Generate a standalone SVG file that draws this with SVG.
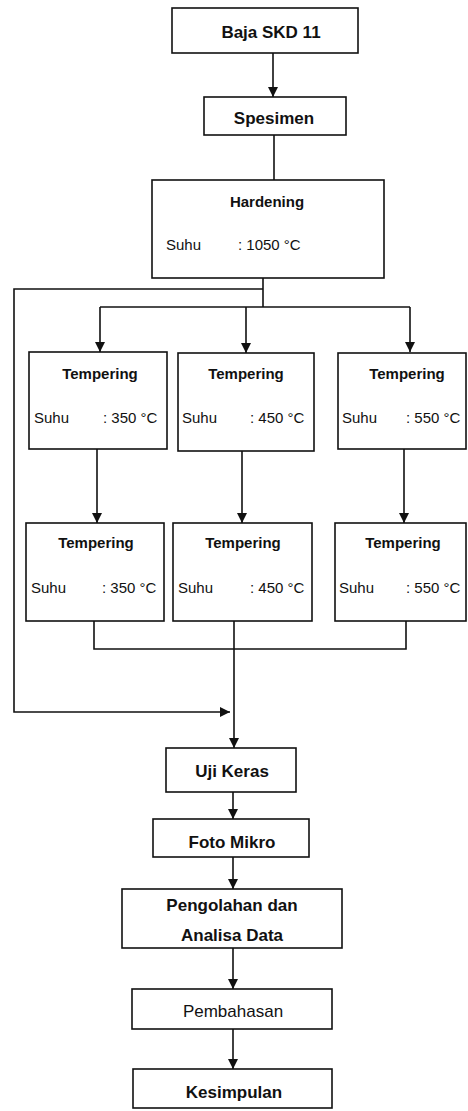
<svg xmlns="http://www.w3.org/2000/svg" width="468" height="1111" viewBox="0 0 468 1111">
<style>
.box{fill:#fff;stroke:#111;stroke-width:1.6}
.ln{fill:none;stroke:#111;stroke-width:1.6}
.t{font-family:"Liberation Sans",Arial,sans-serif;font-weight:bold;font-size:17px;fill:#111;text-anchor:middle}
.tm{font-family:"Liberation Sans",Arial,sans-serif;font-weight:bold;font-size:15px;fill:#111;text-anchor:middle}
.s{font-family:"Liberation Sans",Arial,sans-serif;font-size:15px;fill:#111}
</style>
<defs>
<marker id="ah" viewBox="0 0 10 10" refX="10" refY="5" markerWidth="10" markerHeight="10" markerUnits="userSpaceOnUse" orient="auto">
<path d="M0,0 L10,5 L0,10 z" fill="#111"/>
</marker>
</defs>
<g id="connectors">
<line class="ln" x1="273" y1="53" x2="273" y2="97" marker-end="url(#ah)"/>
<line class="ln" x1="274" y1="135" x2="274" y2="180"/>
<polyline class="ln" points="263,278 263,307"/>
<polyline class="ln" points="100,307 410,307"/>
<line class="ln" x1="100" y1="307" x2="100" y2="352" marker-end="url(#ah)"/>
<line class="ln" x1="246" y1="307" x2="246" y2="353" marker-end="url(#ah)"/>
<line class="ln" x1="410" y1="307" x2="410" y2="352" marker-end="url(#ah)"/>
<polyline class="ln" points="263,289 14,289 14,712 230,712" marker-end="url(#ah)"/>
<line class="ln" x1="97" y1="449" x2="97" y2="523" marker-end="url(#ah)"/>
<line class="ln" x1="242" y1="451" x2="242" y2="523" marker-end="url(#ah)"/>
<line class="ln" x1="404" y1="449" x2="404" y2="523" marker-end="url(#ah)"/>
<polyline class="ln" points="94,621 94,649 406,649 406,621"/>
<line class="ln" x1="234" y1="621" x2="234" y2="748" marker-end="url(#ah)"/>
<line class="ln" x1="233" y1="792" x2="233" y2="819" marker-end="url(#ah)"/>
<line class="ln" x1="233" y1="857" x2="233" y2="889" marker-end="url(#ah)"/>
<line class="ln" x1="233" y1="948" x2="233" y2="989" marker-end="url(#ah)"/>
<line class="ln" x1="233" y1="1029" x2="233" y2="1069" marker-end="url(#ah)"/>
</g>
<g id="baja">
<rect class="box" x="172" y="8" width="186" height="45"/>
<text class="t" x="271" y="38">Baja SKD 11</text>
</g>
<g id="spesimen">
<rect class="box" x="204" y="97" width="142" height="38"/>
<text class="t" x="274" y="124">Spesimen</text>
</g>
<g id="hardening">
<rect class="box" x="152" y="180" width="232" height="98"/>
<text class="tm" x="267" y="207">Hardening</text>
<text class="s" x="166" y="250">Suhu</text>
<text class="s" x="238" y="250">: 1050 °C</text>
</g>
<g id="temp1a">
<rect class="box" x="29" y="352" width="138" height="97"/>
<text class="tm" x="100" y="379">Tempering</text>
<text class="s" x="34" y="423">Suhu</text>
<text class="s" x="103" y="423">: 350 °C</text>
</g>
<g id="temp2a">
<rect class="box" x="178" y="353" width="136" height="98"/>
<text class="tm" x="246" y="379">Tempering</text>
<text class="s" x="182" y="423">Suhu</text>
<text class="s" x="250" y="423">: 450 °C</text>
</g>
<g id="temp3a">
<rect class="box" x="338" y="353" width="128" height="96"/>
<text class="tm" x="407" y="379">Tempering</text>
<text class="s" x="342" y="423">Suhu</text>
<text class="s" x="406" y="423">: 550 °C</text>
</g>
<g id="temp1b">
<rect class="box" x="26" y="523" width="138" height="98"/>
<text class="tm" x="96" y="548">Tempering</text>
<text class="s" x="31" y="593">Suhu</text>
<text class="s" x="102" y="593">: 350 °C</text>
</g>
<g id="temp2b">
<rect class="box" x="173" y="523" width="139" height="98"/>
<text class="tm" x="243" y="548">Tempering</text>
<text class="s" x="178" y="593">Suhu</text>
<text class="s" x="250" y="593">: 450 °C</text>
</g>
<g id="temp3b">
<rect class="box" x="335" y="523" width="131" height="98"/>
<text class="tm" x="403" y="548">Tempering</text>
<text class="s" x="339" y="593">Suhu</text>
<text class="s" x="406" y="593">: 550 °C</text>
</g>
<g id="ujikeras">
<rect class="box" x="166" y="748" width="130" height="44"/>
<text class="t" x="232" y="777">Uji Keras</text>
</g>
<g id="fotomikro">
<rect class="box" x="153" y="819" width="156" height="38"/>
<text class="t" x="232" y="848">Foto Mikro</text>
</g>
<g id="pengolahan">
<rect class="box" x="122" y="889" width="220" height="59"/>
<text class="t" x="232" y="911">Pengolahan dan</text>
<text class="t" x="232" y="941">Analisa Data</text>
</g>
<g id="pembahasan">
<rect class="box" x="132" y="989" width="200" height="40"/>
<text class="t" x="233" y="1017" style="font-weight:normal">Pembahasan</text>
</g>
<g id="kesimpulan">
<rect class="box" x="133" y="1069" width="199" height="39"/>
<text class="t" x="234" y="1098">Kesimpulan</text>
</g>
</svg>
